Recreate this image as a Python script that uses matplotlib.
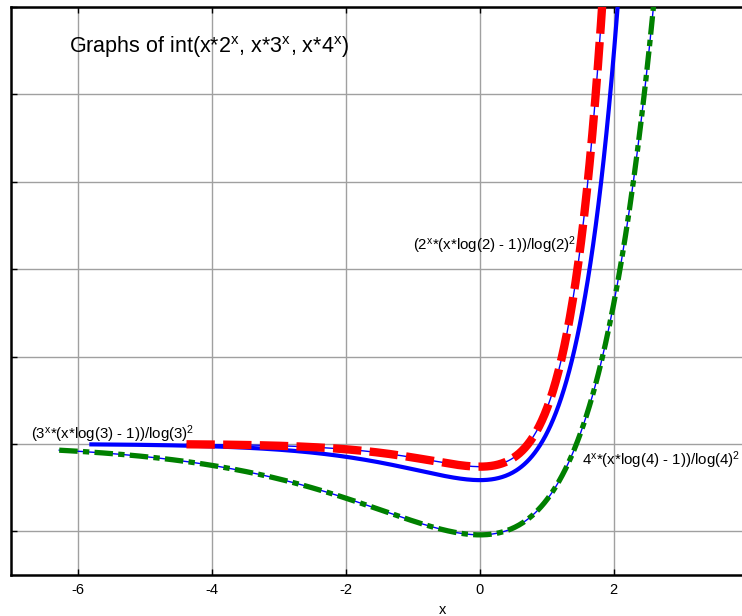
import numpy as np
import matplotlib.pyplot as plt

plt.rcParams['font.family'] = ['Liberation Sans', 'DejaVu Sans']
plt.rcParams['mathtext.fontset'] = 'custom'
plt.rcParams['mathtext.rm'] = 'Liberation Sans'
plt.rcParams['mathtext.it'] = 'Liberation Sans:italic'
plt.rcParams['mathtext.bf'] = 'Liberation Sans:bold'
plt.rcParams['axes.unicode_minus'] = False

# bases of the integrands x*b^x, and the x-range ezplot drew for each
bases = [2, 3, 4]
x_start = [-6.28, -5.8, -4.38]
x_stop = [2.7, 2.1, 1.9]
colors = ['#008000', '#0000ff', '#ff0000']
labels = [r'$\text{(2}^{\text{x}}\text{*(x*log(2) - 1))/log(2)}^{\text{2}}$',
          r'$\text{(3}^{\text{x}}\text{*(x*log(3) - 1))/log(3)}^{\text{2}}$',
          r'$\text{4}^{\text{x}}\text{*(x*log(4) - 1))/log(4)}^{\text{2}}$']
label_pos = [(-1.0, 4.44), (-6.7, 0.11), (1.52, -0.48)]
title = (r'$\text{Graphs of int(x*2}^{\text{x}}\text{, x*3}^{\text{x}}'
         r'\text{, x*4}^{\text{x}}\text{)}$')

xticks = [-6, -4, -2, 0, 2]
yticks = [-2, 0, 2, 4, 6, 8, 10]


def antideriv(x, b):
    lb = np.log(b)
    return b**x * (x * lb - 1) / lb**2


fig = plt.figure(figsize=(7.42, 6.16), dpi=100)
ax = fig.add_axes([11 / 742, 41 / 616, 864 / 742, 568 / 616])

# thin blue line under every curve (ezplot default)
for b, x0, x1 in zip(bases, x_start, x_stop):
    x = np.linspace(x0, x1, 600)
    ax.plot(x, antideriv(x, b), color='#0000ff', lw=1.0, zorder=3)

x = np.linspace(x_start[0], x_stop[0], 600)
ax.plot(x, antideriv(x, 2), color=colors[0], lw=3.8,
        dashes=(3.5, 1.0, 1.2, 1.0), zorder=4)
x = np.linspace(x_start[1], x_stop[1], 600)
ax.plot(x, antideriv(x, 3), color=colors[1], lw=3.0, zorder=4)
x = np.linspace(x_start[2], x_stop[2], 600)
ax.plot(x, antideriv(x, 4), color=colors[2], lw=6.0,
        dashes=(3.4, 1.0), zorder=5)

for lab, (lx, ly) in zip(labels, label_pos):
    ax.text(lx, ly, lab, fontsize=10.8, ha='left', va='baseline', zorder=6)

ax.text(-6.14, 8.95, title, fontsize=15.5, ha='left', va='baseline')

ax.set_xlim(-7, 5.9)
ax.set_ylim(-3, 10)
ax.set_xticks(xticks)
ax.set_yticks(yticks)
ax.set_yticklabels([])
ax.tick_params(direction='in', length=4, width=1, labelsize=10.5,
               top=True, right=True, pad=6)
ax.grid(True, color='#a0a0a0', lw=1)
for s in ax.spines.values():
    s.set_linewidth(1.8)
ax.set_xlabel('x', fontsize=10.5, labelpad=4)

fig.savefig('out.png', dpi=100)
